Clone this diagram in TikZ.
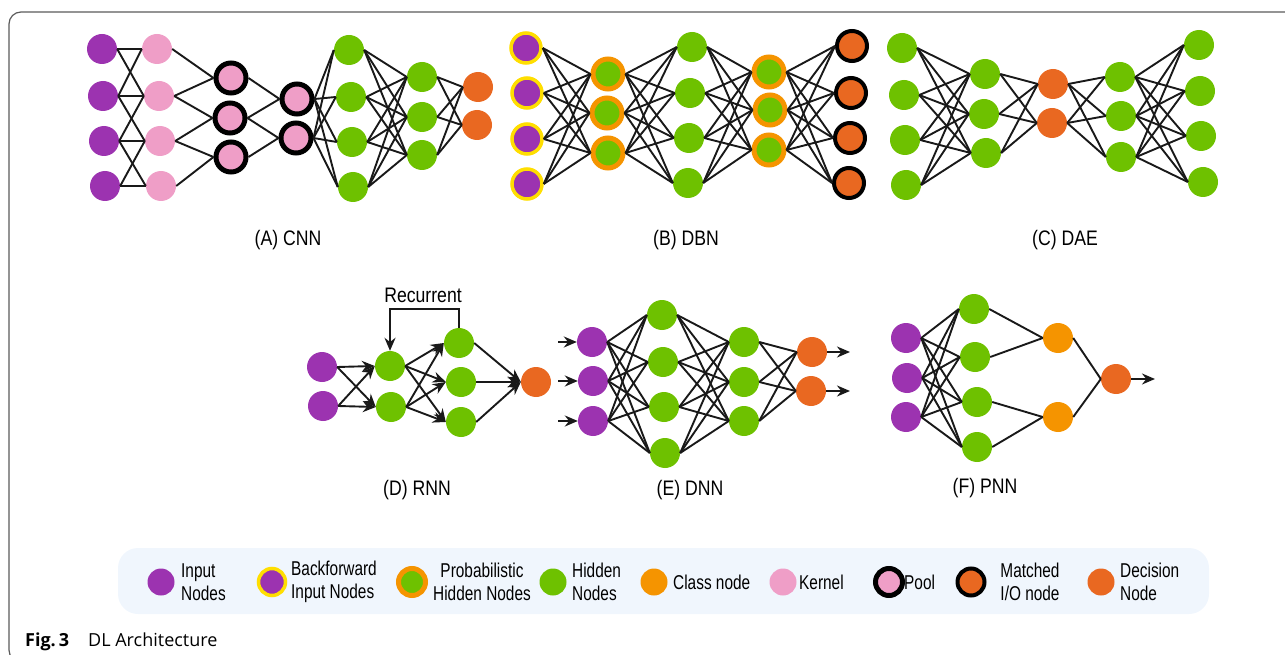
\documentclass[tikz,border=0pt]{standalone}
\usepackage{fontspec}
\setmainfont{Liberation Sans}
\newfontfamily\narrowfont[FakeStretch=0.84]{Liberation Sans}
\newfontfamily\legfont[FakeStretch=0.77]{Liberation Sans}
\newfontfamily\capfont{Open Sans}
\usetikzlibrary{arrows.meta}

\definecolor{inpurple}{RGB}{156,51,176}
\definecolor{kernpink}{RGB}{239,158,199}
\definecolor{hidgreen}{RGB}{110,193,0}
\definecolor{decorange}{RGB}{233,104,33}
\definecolor{clsorange}{RGB}{245,148,0}
\definecolor{bfyellow}{RGB}{255,222,0}
\definecolor{legbg}{RGB}{240,246,253}
\definecolor{framegray}{RGB}{90,90,90}

\tikzset{
  neuron/.style={circle, minimum size=30pt, inner sep=0pt},
  inp/.style={neuron, fill=inpurple},
  bfinp/.style={neuron, fill=inpurple, draw=bfyellow, line width=3.5pt},
  kern/.style={neuron, fill=kernpink},
  pool/.style={neuron, fill=kernpink, draw=black, line width=5pt},
  hid/.style={neuron, fill=hidgreen},
  phid/.style={neuron, fill=hidgreen, draw=clsorange, line width=5pt},
  match/.style={neuron, fill=decorange, draw=black, line width=4pt},
  dec/.style={neuron, fill=decorange},
  cls/.style={neuron, fill=clsorange},
  link/.style={line width=1.9pt, black!90},
  arrowlink/.style={link, -{Stealth[length=13pt,width=11pt]}},
  netlabel/.style={font=\narrowfont\fontsize{21}{24}\selectfont},
  legtext/.style={font=\legfont\fontsize{20}{23}\selectfont, anchor=west, align=left, inner sep=0pt},
  legdot/.style={minimum size=27pt},
}

% every node of layer #1 (#2 nodes) to every node of layer #3 (#4 nodes)
\newcommand\fullconn[4]{%
  \foreach \i in {1,...,#2}{\foreach \j in {1,...,#4}{\draw[link] (#1\i.east) -- (#3\j.west);}}}

\begin{document}
\begin{tikzpicture}[x=1pt, y=-1pt]
    \useasboundingbox (0,0) rectangle (1285,655);
    \clip (0,0) rectangle (1285,655);

    % Frame
    \draw[framegray, line width=1.2pt, rounded corners=12pt] (1300,12) -- (9,12) -- (9,662) -- (1300,662);

    % (A) CNN
    \foreach \x/\y [count=\i] in {102/49,103/96,104/141,105/186} \node[inp] (cin\i) at (\x,\y) {};
    \foreach \x/\y [count=\i] in {157/49,159/96,160/141,161/186} \node[kern] (cker\i) at (\x,\y) {};
    \foreach \x/\y [count=\i] in {231/78,230/118,231/157} \node[pool] (cpa\i) at (\x,\y) {};
    \foreach \x/\y [count=\i] in {297/99,296/138} \node[pool] (cpb\i) at (\x,\y) {};
    \foreach \x/\y [count=\i] in {349/50,351/97,352/142,353/187} \node[hid] (cha\i) at (\x,\y) {};
    \foreach \x/\y [count=\i] in {422/77,422/117,422/155} \node[hid] (chb\i) at (\x,\y) {};
    \foreach \x/\y [count=\i] in {478/87,477/125} \node[dec] (cout\i) at (\x,\y) {};
    \foreach \i/\j in {1/1,1/2,2/1,2/2,2/3,3/2,3/3,3/4,4/3,4/4} \draw[link] (cin\i.east) -- (cker\j.west);
    \foreach \i/\j in {1/1,2/1,2/2,3/2,3/3,4/3} \draw[link] (cker\i.east) -- (cpa\j.west);
    \foreach \i/\j in {1/1,2/1,2/2,3/2} \draw[link] (cpa\i.east) -- (cpb\j.west);
    \fullconn{cpb}{2}{cha}{4}
    \fullconn{cha}{4}{chb}{3}
    \fullconn{chb}{3}{cout}{2}
    \node[netlabel] (lblA) at (288,240) {(A) CNN};

    % (B) DBN
    \foreach \x/\y [count=\i] in {526/48,527/93,527/139,527/184} \node[bfinp] (bin\i) at (\x,\y) {};
    \foreach \x/\y [count=\i] in {608/74,607/113,608/153} \node[phid] (bpa\i) at (\x,\y) {};
    \foreach \x/\y [count=\i] in {692/47,690/93,689/138,688/183} \node[hid] (bh\i) at (\x,\y) {};
    \foreach \x/\y [count=\i] in {769/72,770/110,769/150} \node[phid] (bpb\i) at (\x,\y) {};
    \foreach \x/\y [count=\i] in {852/46,851/93,850/138,849/183} \node[match] (bout\i) at (\x,\y) {};
    \fullconn{bin}{4}{bpa}{3}
    \fullconn{bpa}{3}{bh}{4}
    \fullconn{bh}{4}{bpb}{3}
    \fullconn{bpb}{3}{bout}{4}
    \node[netlabel] (lblB) at (686,240) {(B) DBN};

    % (C) DAE
    \foreach \x/\y [count=\i] in {902/48,904/95,905/140,906/185} \node[hid] (ein\i) at (\x,\y) {};
    \foreach \x/\y [count=\i] in {985/74,984/114,986/153} \node[hid] (eha\i) at (\x,\y) {};
    \foreach \x/\y [count=\i] in {1053/84,1052/123} \node[dec] (ecode\i) at (\x,\y) {};
    \foreach \x/\y [count=\i] in {1120/77,1121/116,1121/157} \node[hid] (ehb\i) at (\x,\y) {};
    \foreach \x/\y [count=\i] in {1199/45,1200/91,1201/136,1203/182} \node[hid] (eout\i) at (\x,\y) {};
    \fullconn{ein}{4}{eha}{3}
    \fullconn{eha}{3}{ecode}{2}
    \fullconn{ecode}{2}{ehb}{3}
    \fullconn{ehb}{3}{eout}{4}
    \node[netlabel] (lblC) at (1065,240) {(C) DAE};

    % (D) RNN
    \foreach \x/\y [count=\i] in {322/367,323/406} \node[inp] (rin\i) at (\x,\y) {};
    \foreach \x/\y [count=\i] in {390/366,391/407} \node[hid] (rha\i) at (\x,\y) {};
    \foreach \x/\y [count=\i] in {459/343,461/382,461/422} \node[hid] (rhb\i) at (\x,\y) {};
    \node[dec] (rout) at (536,382) {};
    \foreach \i in {1,2} \foreach \j in {1,2} \draw[arrowlink] (rin\i.east) -- (rha\j.west);
    \foreach \i in {1,2} \foreach \j in {1,2,3} \draw[arrowlink] (rha\i.east) -- (rhb\j.west);
    \foreach \i in {1,2,3} \draw[arrowlink] (rhb\i.east) -- (rout.west);
    \draw[arrowlink] (rhb1.north) -- (rhb1.north |- 0,309) -| (rha1.north);
    \node[netlabel] (rlbl) at (423,295) {Recurrent};
    \node[netlabel] (lblD) at (417,490) {(D) RNN};

    % (E) DNN
    \foreach \x/\y [count=\i] in {592/342,593/381,593/421} \node[inp] (din\i) at (\x,\y) {};
    \foreach \x/\y [count=\i] in {662/315,663/362,664/407,665/453} \node[hid] (dha\i) at (\x,\y) {};
    \foreach \x/\y [count=\i] in {744/342,744/382,744/421} \node[hid] (dhb\i) at (\x,\y) {};
    \foreach \x/\y [count=\i] in {812/352,811/391} \node[dec] (dout\i) at (\x,\y) {};
    \foreach \y [count=\i] in {342,381,421} {
        \coordinate (dsrc\i) at (558,\y);
        \draw[arrowlink] (dsrc\i) -- (din\i.west);
    }
    \foreach \y [count=\i] in {352,391} {
        \coordinate (ddst\i) at (850,\y);
        \draw[arrowlink] (dout\i.east) -- (ddst\i);
    }
    \fullconn{din}{3}{dha}{4}
    \fullconn{dha}{4}{dhb}{3}
    \fullconn{dhb}{3}{dout}{2}
    \node[netlabel] (lblE) at (690,490) {(E) DNN};

    % (F) PNN
    \foreach \x/\y [count=\i] in {906/338,907/378,906/417} \node[inp] (pin\i) at (\x,\y) {};
    \foreach \x/\y [count=\i] in {974/309,975/357,977/402,977/447} \node[hid] (phd\i) at (\x,\y) {};
    \foreach \x/\y [count=\i] in {1058/338,1058/417} \node[cls] (pcls\i) at (\x,\y) {};
    \node[dec] (pdec) at (1116,379) {};
    \coordinate (pdst) at (1155,379);
    \fullconn{pin}{3}{phd}{4}
    \foreach \i/\j in {1/1,2/1,3/2,4/2} \draw[link] (phd\i.east) -- (pcls\j.west);
    \foreach \j in {1,2} \draw[link] (pcls\j.east) -- (pdec.west);
    \draw[arrowlink] (pdec.east) -- (pdst);
    \node[netlabel] (lblF) at (985,488) {(F) PNN};

    % Legend
    \fill[legbg, rounded corners=20pt] (118,548) rectangle (1209,614);
    \node[inp, legdot] (kInp) at (161,582) {};
    \node[legtext] (tInp) at (181,582) {Input\\Nodes};
    \node[bfinp, legdot] (kBf) at (272,582) {};
    \node[legtext] (tBf) at (291,582) {Backforward\\Input Nodes};
    \node[phid, legdot] (kPh) at (412,582) {};
    \node[legtext, anchor=center, align=center] (tPh) at (482,582) {Probabilistic\\Hidden Nodes};
    \node[hid, legdot] (kHid) at (553,582) {};
    \node[legtext] (tHid) at (572,582) {Hidden\\Nodes};
    \node[cls, legdot] (kCls) at (654,582) {};
    \node[legtext] (tCls) at (673,582) {Class node};
    \node[kern, legdot] (kKer) at (783,582) {};
    \node[legtext] (tKer) at (799,582) {Kernel};
    \node[pool, legdot] (kPool) at (889,582) {};
    \node[legtext] (tPool) at (904,582) {Pool};
    \node[match, legdot] (kMat) at (971,582) {};
    \node[legtext, anchor=center, align=center] (tMat) at (1030,582) {Matched\\I/O node};
    \node[dec, legdot] (kDec) at (1101,582) {};
    \node[legtext] (tDec) at (1120,582) {Decision\\Node};

    % Caption
    \node[anchor=base west, inner sep=0pt, font=\capfont\bfseries\fontsize{18}{22}\selectfont] (capFig) at (25,646) {Fig.\,3};
    \node[anchor=base west, inner sep=0pt, font=\capfont\fontsize{18}{22}\selectfont] (capTxt) at (88,646) {DL Architecture};
\end{tikzpicture}
\end{document}
